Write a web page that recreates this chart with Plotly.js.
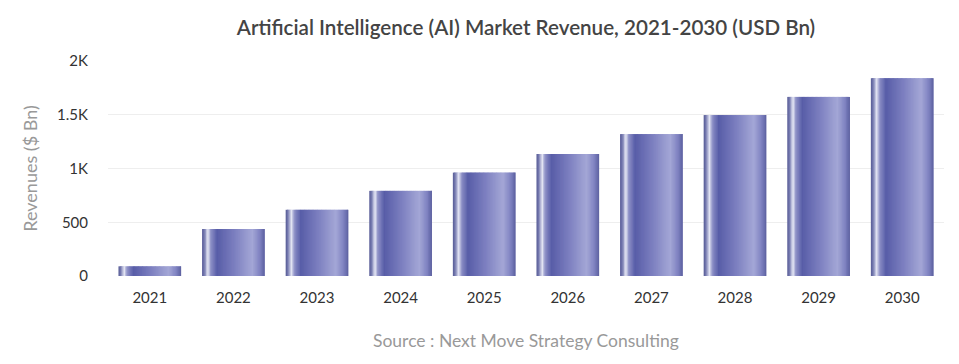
<!DOCTYPE html>
<html>
<head>
<meta charset="utf-8">
<script src="https://cdn.plot.ly/plotly-3.0.1.min.js"></script>
<style>html,body{margin:0;padding:0;background:#fff}#chart{width:959px;height:364px}</style>
</head>
<body>
<div id="chart"></div>
<script>
var years = ['2021','2022','2023','2024','2025','2026','2027','2028','2029','2030'];
var revenues = [90, 437, 616, 792, 962, 1135, 1320, 1497, 1666, 1840];
var yTickVals = [0, 500, 1000, 1500, 2000];
var yTickText = ['0', '500', '1K', '1.5K', '2K'];

// horizontal gradient stops across each bar (fraction, rgb)
var stops = [
  [0.00, [88, 92, 150]],
  [0.04, [120, 124, 178]],
  [0.09, [232, 234, 246]],
  [0.14, [140, 143, 198]],
  [0.24, [88, 93, 168]],
  [0.50, [122, 125, 190]],
  [0.80, [164, 167, 214]],
  [0.92, [128, 131, 194]],
  [1.00, [92, 96, 160]]
];
function colorAt(t) {
  for (var i = 0; i < stops.length - 1; i++) {
    var a = stops[i], b = stops[i + 1];
    if (t >= a[0] && t <= b[0]) {
      var f = (t - a[0]) / (b[0] - a[0]);
      var c = a[1].map(function (v, k) { return Math.round(v + (b[1][k] - v) * f); });
      return 'rgb(' + c.join(',') + ')';
    }
  }
  return 'rgb(' + stops[stops.length - 1][1].join(',') + ')';
}

var barW = 0.75, N = 48, traces = [];
for (var i = 0; i < N; i++) {
  var start = -barW / 2 + i * barW / N;
  var w = Math.min(barW / N * 1.8, barW / 2 - start);
  traces.push({
    type: 'bar', x: years, y: revenues,
    width: w, offset: start,
    marker: {color: colorAt((i + 0.5) / N), line: {width: 0}},
    hoverinfo: i === 0 ? 'x+y' : 'skip', showlegend: false
  });
}

var layout = {
  width: 959, height: 364,
  margin: {l: 108, r: 15, t: 61, b: 87.5},
  paper_bgcolor: '#fff', plot_bgcolor: '#fff',
  barmode: 'overlay',
  font: {family: 'Lato, "Open Sans", sans-serif', color: '#333', size: 15},
  title: {
    text: 'Artificial Intelligence (AI) Market Revenue, 2021-2030 (USD Bn)',
    font: {family: 'Lato, sans-serif', size: 20.6, color: '#444', weight: 600},
    x: 0.5, xref: 'paper', xanchor: 'center', y: 1 - 28 / 364, yanchor: 'middle'
  },
  xaxis: {
    type: 'category', showgrid: false, zeroline: false, showline: false,
    ticks: 'outside', ticklen: 8, tickcolor: 'rgba(0,0,0,0)',
    tickfont: {size: 15, color: '#333'}
  },
  yaxis: {
    range: [0, 2000], tickvals: yTickVals, ticktext: yTickText,
    showgrid: true, gridcolor: '#eeeeee', gridwidth: 1, zeroline: false, showline: false,
    ticks: 'outside', ticklen: 16, tickcolor: 'rgba(0,0,0,0)',
    tickfont: {size: 15, color: '#333'},
    title: {text: 'Revenues ($ Bn)', font: {size: 18, color: '#999'}, standoff: 14}
  },
  annotations: [{
    text: 'Source : Next Move Strategy Consulting', showarrow: false,
    xref: 'paper', yref: 'paper', x: 0.5, y: 0, xanchor: 'center', yanchor: 'middle',
    yshift: -64.5, font: {size: 17.5, color: '#999'}
  }]
};

Plotly.newPlot('chart', traces, layout, {displayModeBar: false, staticPlot: true});
</script>
</body>
</html>
